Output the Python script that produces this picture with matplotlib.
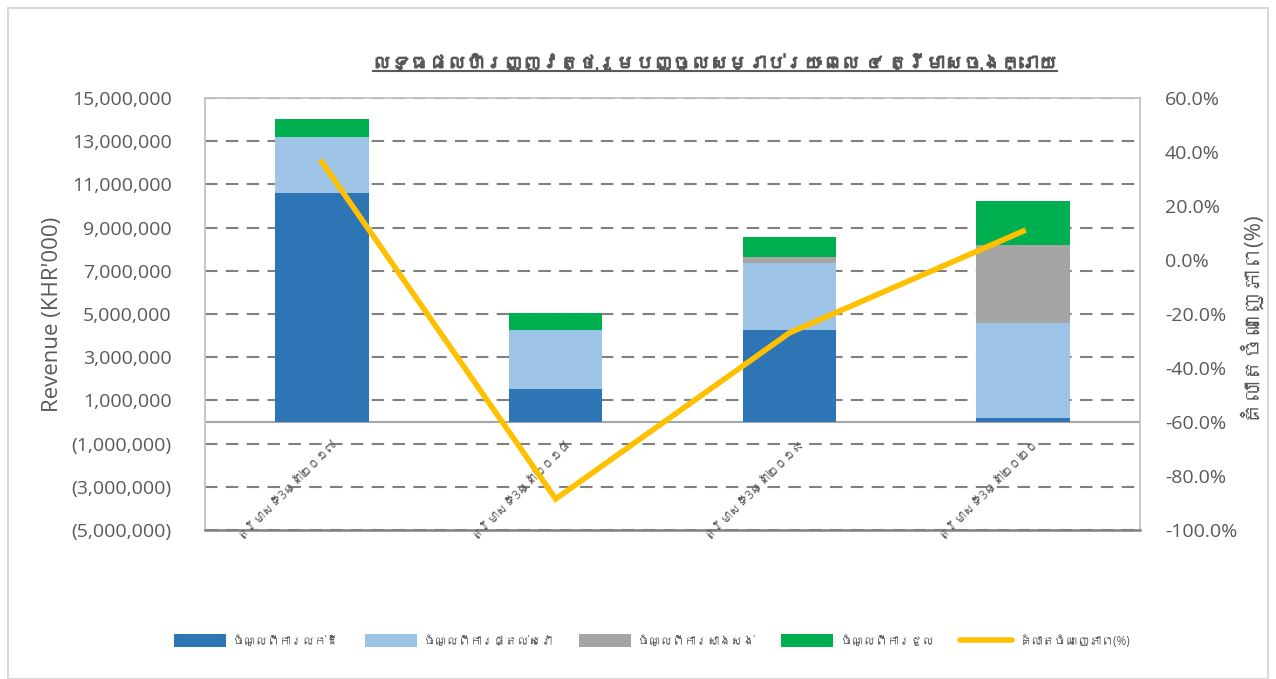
import matplotlib
matplotlib.use("Agg")
import matplotlib.pyplot as plt
from matplotlib import font_manager
from matplotlib import patheffects
from matplotlib.lines import Line2D
from matplotlib.patches import Patch, Rectangle
import matplotlib.ticker as mticker
import numpy as np

# ---------------- data ----------------
categories = ["ត្រីមាសទី3ឆ្នាំ២០១៧", "ត្រីមាសទី3ឆ្នាំ២០១៨",
              "ត្រីមាសទី3ឆ្នាំ២០១៩", "ត្រីមាសទី3ឆ្នាំ២០២០"]
land_sales = [10600000, 1530000, 4260000, 190000]
services = [2590000, 2730000, 3100000, 4390000]
construction = [0, 0, 280000, 3610000]
rental = [840000, 790000, 920000, 2040000]
margin_pct = [36.3, -88.5, -27.0, 10.7]

series_names = ["ចំណូលពីការលក់ដី", "ចំណូលពីការផ្តល់សេវា",
                "ចំណូលពីការសាងសង់", "ចំណូលពីការជួល"]
line_name = "គំលាតចំណេញភាព(%)"
title = "លទ្ធផលហិរញ្ញវត្ថុរួមបញ្ចូលសម្រាប់រយៈពេល ៤ ត្រីមាសចុងក្រោយ"
ylabel_left = "Revenue (KHR'000)"
ylabel_right = "គំលាតចំណេញភាព(%)"

# ---------------- fonts ----------------
khmer_family = None
try:
    from fontTools.ttLib import TTFont
    for f in font_manager.fontManager.ttflist:
        try:
            tt = TTFont(f.fname, fontNumber=0, lazy=True)
            cmap = tt.getBestCmap()
            if cmap and 0x1780 in cmap and 0x17D2 in cmap:
                khmer_family = f.name
                break
        except Exception:
            continue
except Exception:
    pass

fams = ["Open Sans"] + ([khmer_family] if khmer_family else []) + ["DejaVu Sans"]
plt.rcParams["font.family"] = fams

txt_color = "#595959"
colors = ["#2E75B6", "#9DC3E6", "#A5A5A5", "#00B050"]
line_color = "#FFC000"
grid_color = "#808080"

fig = plt.figure(figsize=(12.76, 6.79), dpi=100)
ax = fig.add_axes([205 / 1276, 1 - 530 / 679, (1140 - 205) / 1276, (530 - 98) / 679])
ax2 = ax.twinx()

x = np.arange(len(categories))
width = 0.4
bottom = np.zeros(len(categories))
for vals, c, name in zip([land_sales, services, construction, rental], colors, series_names):
    ax.bar(x, vals, width, bottom=bottom, color=c, label=name, zorder=3)
    bottom = bottom + np.array(vals)

ax.set_xlim(-0.5, len(categories) - 0.5)
ax.set_ylim(-5000000, 15000000)
ax.set_yticks(np.arange(-5000000, 15000001, 2000000))

def fmt(v, pos):
    if v < 0:
        return "({:,.0f})".format(-v)
    return "{:,.0f}".format(v)

ax.yaxis.set_major_formatter(mticker.FuncFormatter(fmt))
ax.tick_params(axis="y", length=0, labelsize=14, labelcolor=txt_color, pad=24)
ax.set_xticks([])
for yv in np.arange(-5000000, 15000001, 2000000):
    ax.axhline(yv, color=grid_color, lw=1.5, ls=(0, (6, 4)), zorder=1)
ax.axhline(0, color="#A6A6A6", lw=1.5, zorder=2)
for s in ax.spines.values():
    s.set_color("#BFBFBF")
    s.set_linewidth(1.2)
ax.spines["bottom"].set_color("#808080")
ax.spines["bottom"].set_linewidth(1.8)
ax.set_ylabel(ylabel_left, fontsize=16, color=txt_color, labelpad=6)

# category labels at the zero line
for xi, lab in zip(x, categories):
    ax.annotate(lab, xy=(xi, 0), xycoords="data", xytext=(6, -10),
                textcoords="offset points", rotation=45, ha="right", va="top",
                rotation_mode="anchor", fontsize=8.5, color=txt_color)

# line on secondary axis
ax2.plot(x, margin_pct, color=line_color, lw=4, zorder=5, solid_joinstyle="miter",
         label=line_name)
ax2.set_ylim(-100, 60)
ax2.set_yticks(np.arange(-100, 61, 20))
ax2.yaxis.set_major_formatter(mticker.FuncFormatter(lambda v, p: "{:.1f}%".format(v)))
ax2.tick_params(axis="y", length=0, labelsize=14, labelcolor=txt_color, pad=18)
for s in ax2.spines.values():
    s.set_visible(False)
ax2.set_ylabel(ylabel_right, fontsize=16, color=txt_color, rotation=90, labelpad=0)

# title
t = fig.text(715 / 1276, 1 - 64 / 679, title, ha="center", va="center",
             fontsize=13.5, fontweight="bold", color=txt_color,
             path_effects=[patheffects.withStroke(linewidth=0.9, foreground=txt_color)])

# legend
handles = [Patch(facecolor=c, edgecolor="none") for c in colors]
handles.append(Line2D([0], [0], color=line_color, lw=4, solid_capstyle="round"))
labels = series_names + [line_name]
fig.legend(handles, labels, loc="center", bbox_to_anchor=(652 / 1276, 1 - 641 / 679),
           ncol=5, frameon=False, fontsize=8.5, handlelength=4.4, handleheight=1.3,
           columnspacing=2.2, labelcolor=txt_color, handletextpad=0.6)

# outer border
fig.patches.append(Rectangle((8 / 1276, 0), 1 - 16 / 1276, 1 - 8 / 679,
                             transform=fig.transFigure, fill=False,
                             edgecolor="#D9D9D9", lw=1.5))

# underline title
fig.canvas.draw()
bb = t.get_window_extent(renderer=fig.canvas.get_renderer())
inv = fig.transFigure.inverted()
(x0, y0), (x1, y1) = inv.transform([(bb.x0, bb.y0), (bb.x1, bb.y1)])
fig.add_artist(Line2D([x0, x1], [y0 + 0.004, y0 + 0.004], transform=fig.transFigure,
                      color=txt_color, lw=1.5))

fig.savefig("out.png", dpi=100)
